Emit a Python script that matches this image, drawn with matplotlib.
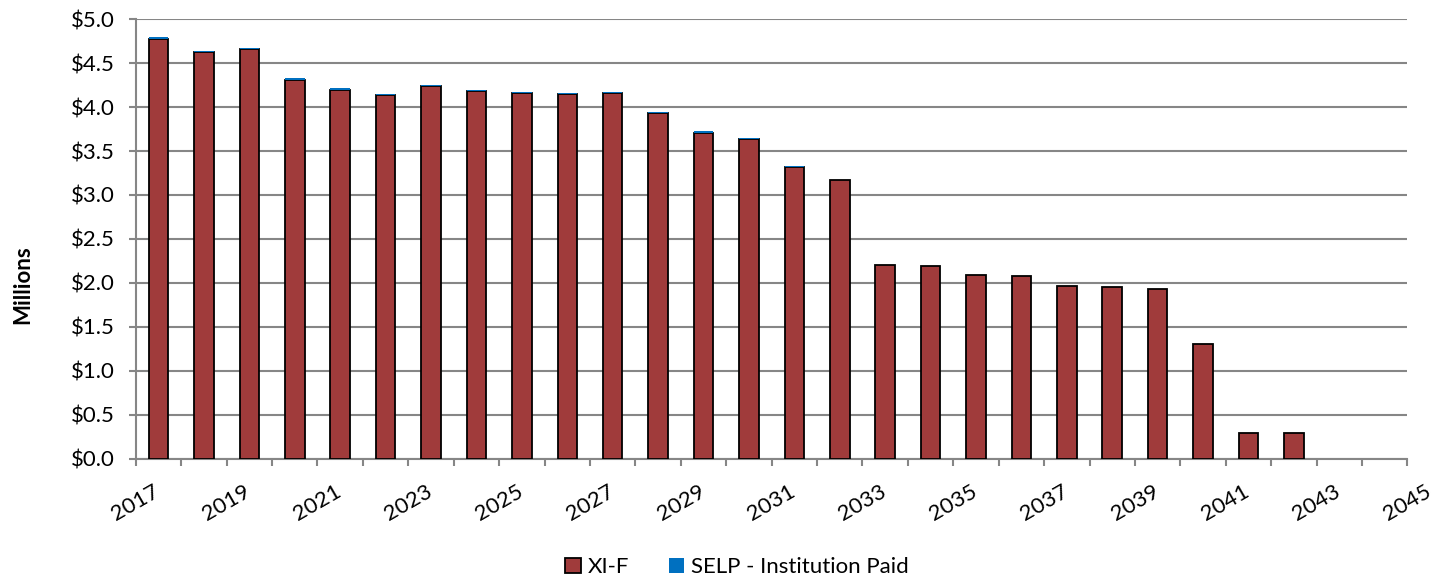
import matplotlib
matplotlib.use("Agg")
import matplotlib.pyplot as plt
import numpy as np

plt.rcParams.update({
    "font.family": ["Lato", "DejaVu Sans"],
    "font.size": 16,
})

# data (millions of $)
years = list(range(2017, 2043))
xi_f = [4.777, 4.625, 4.656, 4.310, 4.198, 4.137, 4.235, 4.180, 4.156, 4.144,
        4.156, 3.930, 3.710, 3.633, 3.316, 3.167, 2.205, 2.198, 2.095, 2.080,
        1.966, 1.948, 1.930, 1.300, 0.295, 0.295]
selp = [0.015, 0.015, 0.015, 0.015, 0.015, 0.015, 0.015, 0.015, 0.015, 0.015,
        0.015, 0.015, 0.015, 0.015, 0.012, 0.0, 0.0, 0.0, 0.0, 0.0,
        0.0, 0.0, 0.0, 0.0, 0.0, 0.0]
tick_years = list(range(2017, 2046, 2))

RED = "#A03B3B"
BLUE = "#0070C0"
GRID = "#868686"

fig = plt.figure(figsize=(14.45, 5.8), dpi=100)
ax = fig.add_axes([0.094, 0.209, 0.880, 0.758])

x = np.array(years) + 0.5
ax.bar(x, xi_f, 0.43, color=RED, edgecolor="black", linewidth=1.3,
       label="XI-F", zorder=3)
ax.bar(x, selp, 0.43, bottom=xi_f, color=BLUE, linewidth=0,
       label="SELP - Institution Paid", zorder=3)

ax.set_xlim(2017, 2045)
ax.set_ylim(0, 5.0)
ax.set_yticks(np.arange(0, 5.01, 0.5))
ax.set_yticklabels([f"${v:.1f}" for v in np.arange(0, 5.01, 0.5)])
ax.set_xticks(np.arange(2017, 2046))
ax.set_xticklabels([str(y) if y in tick_years else "" for y in range(2017, 2046)],
                   rotation=30, ha="center")

ax.grid(axis="y", color=GRID, linewidth=1.5, zorder=0)
ax.set_axisbelow(True)
for s in ["top", "right"]:
    ax.spines[s].set_visible(False)
for s in ["left", "bottom"]:
    ax.spines[s].set_color(GRID)
    ax.spines[s].set_linewidth(1.5)
ax.tick_params(axis="both", color=GRID, width=1.5, length=5)
ax.tick_params(axis="y", pad=10)
ax.tick_params(axis="x", pad=11)

ax.set_ylabel("Millions", fontweight="bold", fontsize=16)
ax.yaxis.set_label_coords(-0.081, 0.395)

ax.legend(loc="center", bbox_to_anchor=(0.51, 0.022), bbox_transform=fig.transFigure,
          ncol=2, frameon=False, handlelength=0.7, handleheight=0.7,
          handletextpad=0.3, columnspacing=1.8)

fig.savefig("out.png", dpi=100)
